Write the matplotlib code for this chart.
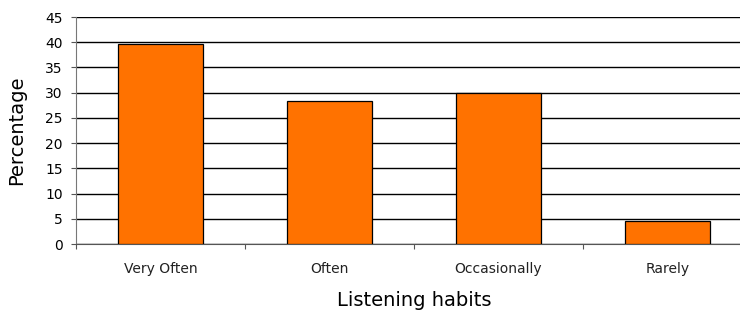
import numpy as np
import matplotlib.pyplot as plt

plt.rcParams['font.family'] = ['DejaVu Sans']

categorias = ['Very Often', 'Often', 'Occasionally', 'Rarely']
valores = [39.7, 28.3, 30.0, 4.5]
y_ticks = np.arange(0, 50, 5)

fig = plt.figure(figsize=(7.4, 3.18), dpi=100)
ax = fig.add_axes([76 / 740, 1 - 244 / 318, 676 / 740, 227 / 318])

x = np.arange(len(categorias))
ax.bar(x, valores, width=0.5, color='#FF7200', edgecolor='black', linewidth=0.9, zorder=3)

ax.set_xlim(-0.5, len(categorias) - 0.5)
ax.set_ylim(0, 45)
ax.set_yticks(y_ticks)
ax.yaxis.grid(True, color='black', linewidth=1.0, zorder=0)
ax.set_axisbelow(True)

# ticks do eixo x ficam nas divisas entre categorias
ax.set_xticks(np.arange(-0.5, len(categorias), 1.0))
ax.set_xticklabels([])
ax.set_xticks(x, minor=True)
ax.set_xticklabels(categorias, minor=True, fontsize=10, color='#222222')
ax.tick_params(axis='x', which='minor', length=0, pad=13)
ax.tick_params(axis='x', which='major', length=3.6, direction='out', color='#555555')
ax.tick_params(axis='y', length=3.6, direction='out', color='#555555', labelsize=10, pad=6)

for s in ['top', 'right']:
    ax.spines[s].set_visible(False)
ax.spines['left'].set_color('#777777')
ax.spines['bottom'].set_color('#555555')

ax.set_ylabel('Percentage', fontsize=14, va='center')
ax.yaxis.set_label_coords(-59 / 676, 0.5)
ax.set_xlabel('Listening habits', fontsize=14, va='center')
ax.xaxis.set_label_coords(0.5, -57 / 227)

fig.savefig('out.png', dpi=100)
